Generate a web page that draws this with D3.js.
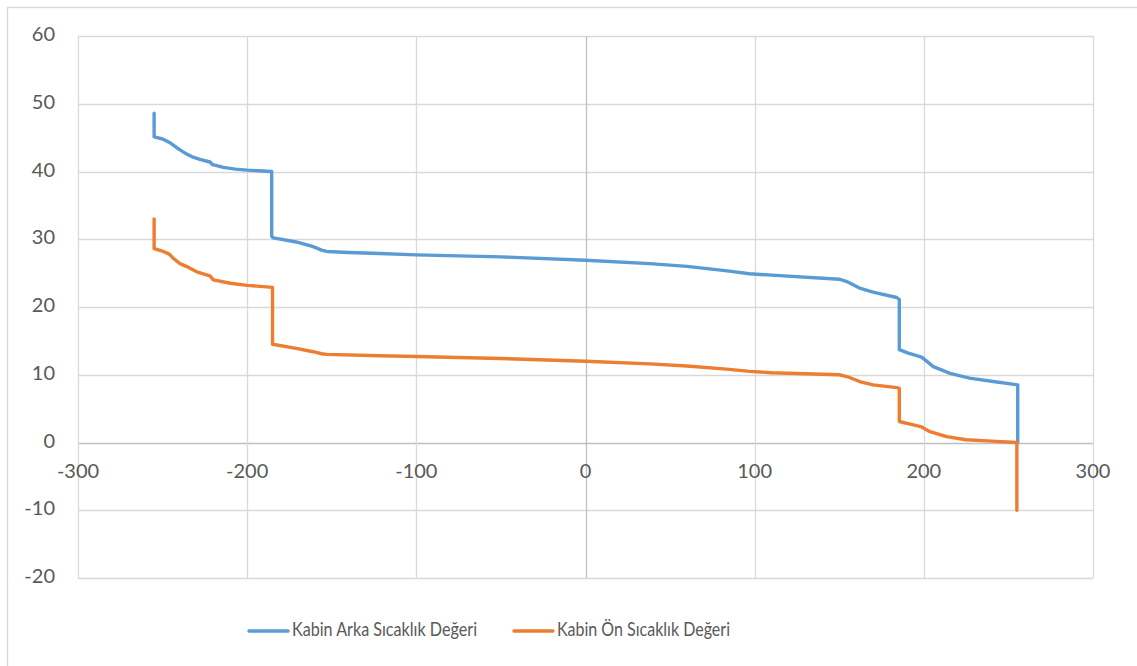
<!DOCTYPE html>
<html>
<head>
<meta charset="utf-8">
<script src="https://cdn.jsdelivr.net/npm/d3@7"></script>
<style>
  html, body { margin: 0; padding: 0; background: #fff; }
  svg { display: block; }
  text { font-family: Lato, "Open Sans", sans-serif; fill: #595959; }
</style>
</head>
<body>
<svg id="chart" width="1137" height="666"></svg>
<script>
// ---- data ----
const xTicks = [-300, -200, -100, 0, 100, 200, 300];
const yTicks = [-20, -10, 0, 10, 20, 30, 40, 50, 60];
const seriesNames = ["Kabin Arka Sıcaklık Değeri", "Kabin Ön Sıcaklık Değeri"];
const seriesColors = ["#5b9bd5", "#ed7d31"];

const arkaX = [-255, -255, -250, -245.3, -241, -239.7, -236, -232.8, -228, -222, -220.4, -214, -207, -200, -185.5,
  -185.5, -184.5, -171, -161, -156, -153, -140, -121.5, -100, -50, 0, 38, 60, 85, 97, 110, 150, 155, 162, 170, 184,
  185.5, 185.5, 190.8, 198.7, 205.6, 215.5, 227, 241, 255.5, 255.5];
const arkaY = [48.6, 45.1, 44.8, 44.2, 43.4, 43.2, 42.6, 42.2, 41.8, 41.4, 41.0, 40.6, 40.35, 40.2, 40.0,
  30.4, 30.2, 29.6, 28.9, 28.4, 28.2, 28.05, 27.9, 27.7, 27.4, 26.9, 26.4, 26.0, 25.3, 24.9, 24.7, 24.1, 23.7, 22.8, 22.2, 21.4,
  21.1, 13.7, 13.2, 12.6, 11.2, 10.2, 9.5, 9.0, 8.5, 0];

const onX = [-255, -255, -249.6, -246, -243.7, -239.7, -236, -229.8, -222, -220, -210, -200, -185,
  -185, -171, -161, -156, -153, -121.5, -100, -50, 0, 38, 60, 85, 97, 110, 150, 155, 162, 170, 184,
  185.5, 185.5, 193.8, 198.7, 203.6, 213.5, 225, 240, 255, 255];
const onY = [33.0, 28.6, 28.2, 27.8, 27.2, 26.4, 26.0, 25.2, 24.6, 24.0, 23.5, 23.2, 22.9,
  14.5, 13.9, 13.4, 13.1, 13.0, 12.8, 12.7, 12.4, 12.0, 11.6, 11.3, 10.8, 10.5, 10.3, 10.0, 9.7, 9.0, 8.5, 8.1,
  8.0, 3.1, 2.6, 2.3, 1.6, 0.86, 0.4, 0.2, 0, -10];

// ---- drawing ----
const svg = d3.select("#chart");
const x = d3.scaleLinear().domain([-300, 300]).range([78, 1093]);
const y = d3.scaleLinear().domain([-20, 60]).range([578, 36]);

// outer chart border
svg.append("rect").attr("x", 7.5).attr("y", 7.5).attr("width", 1140).attr("height", 670)
  .attr("fill", "none").attr("stroke", "#d9d9d9").attr("stroke-width", 1.3);

const grid = svg.append("g");
grid.selectAll("line.h").data(yTicks).join("line")
  .attr("x1", x(-300)).attr("x2", x(300))
  .attr("y1", d => Math.round(y(d)) + 0.5).attr("y2", d => Math.round(y(d)) + 0.5)
  .attr("stroke", d => d === 0 ? "#bfbfbf" : "#d9d9d9").attr("stroke-width", 1.3);
grid.selectAll("line.v").data(xTicks).join("line")
  .attr("y1", y(60)).attr("y2", y(-20))
  .attr("x1", d => Math.round(x(d)) + 0.5).attr("x2", d => Math.round(x(d)) + 0.5)
  .attr("stroke", d => d === 0 ? "#bfbfbf" : "#d9d9d9").attr("stroke-width", 1.3);

// y tick labels
svg.append("g").selectAll("text").data(yTicks).join("text")
  .attr("x", 55).attr("y", d => y(d))
  .attr("text-anchor", "end").attr("font-size", 20)
  .attr("dominant-baseline", "middle")
  .text(d => d);

// x tick labels (along y=0)
svg.append("g").selectAll("text").data(xTicks).join("text")
  .attr("x", d => x(d)).attr("y", y(0) + 30)
  .attr("text-anchor", "middle").attr("font-size", 20)
  .attr("dominant-baseline", "middle")
  .text(d => d);

// lines
const line = d3.line().x(d => x(d[0])).y(d => y(d[1])).curve(d3.curveLinear);
const series = [d3.zip(arkaX, arkaY), d3.zip(onX, onY)];
svg.append("g").selectAll("path").data(series).join("path")
  .attr("d", line)
  .attr("fill", "none")
  .attr("stroke", (d, i) => seriesColors[i])
  .attr("stroke-width", 3.4)
  .attr("stroke-linejoin", "round")
  .attr("stroke-linecap", "round");

// legend
const legendX = [249, 514];
const legendTextW = [185, 173];
const lg = svg.append("g").selectAll("g").data(seriesNames).join("g")
  .attr("transform", (d, i) => `translate(${legendX[i]},631)`);
lg.append("line").attr("x1", 0).attr("x2", 39).attr("y1", 0).attr("y2", 0)
  .attr("stroke", (d, i) => seriesColors[i]).attr("stroke-width", 3.4).attr("stroke-linecap", "round");
lg.append("text").attr("x", 43).attr("y", 0).attr("dominant-baseline", "middle")
  .attr("font-size", 20)
  .attr("textLength", (d, i) => legendTextW[i]).attr("lengthAdjust", "spacingAndGlyphs")
  .text(d => d);
</script>
</body>
</html>
